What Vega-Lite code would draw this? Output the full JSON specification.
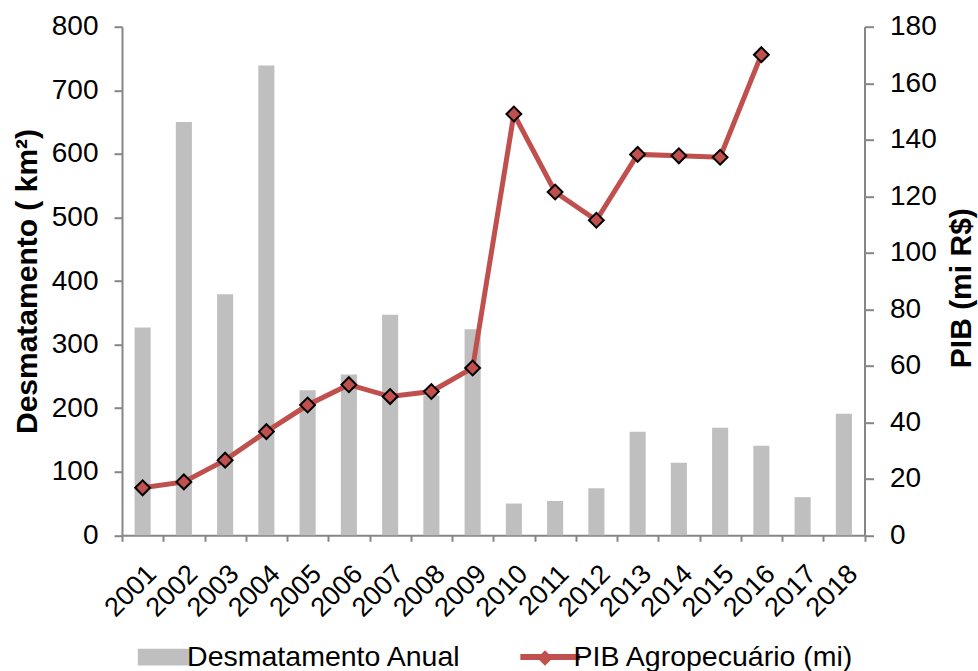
{
  "$schema": "https://vega.github.io/schema/vega-lite/v6.json",
  "width": 742.5,
  "height": 508.6,
  "autosize": {"type": "none"},
  "padding": {"left": 122, "top": 26.7, "right": 113.5, "bottom": 135.7},
  "background": "white",
  "config": {
    "view": {"stroke": null},
    "font": "Liberation Sans",
    "axis": {
      "domainColor": "#868686", "domainWidth": 2,
      "tickColor": "#868686", "tickWidth": 2,
      "labelColor": "black", "titleColor": "black", "grid": false,
      "labelFont": "Liberation Sans", "titleFont": "Liberation Sans"
    },
    "legend": {"labelFont": "Liberation Sans"}
  },
  "data": {
    "values": [
      {"year": "2001", "desm": 327, "pib": 16.8},
      {"year": "2002", "desm": 650, "pib": 18.9},
      {"year": "2003", "desm": 379, "pib": 26.6},
      {"year": "2004", "desm": 739, "pib": 36.7},
      {"year": "2005", "desm": 228, "pib": 46.1},
      {"year": "2006", "desm": 253, "pib": 53.3},
      {"year": "2007", "desm": 347, "pib": 49.1},
      {"year": "2008", "desm": 220, "pib": 50.9},
      {"year": "2009", "desm": 324, "pib": 59.2},
      {"year": "2010", "desm": 50, "pib": 149.1},
      {"year": "2011", "desm": 54, "pib": 121.5},
      {"year": "2012", "desm": 74, "pib": 111.5},
      {"year": "2013", "desm": 163, "pib": 134.8},
      {"year": "2014", "desm": 114, "pib": 134.3},
      {"year": "2015", "desm": 169, "pib": 133.8},
      {"year": "2016", "desm": 141, "pib": 170.1},
      {"year": "2017", "desm": 60, "pib": null},
      {"year": "2018", "desm": 191, "pib": null}
    ]
  },
  "encoding": {
    "x": {
      "field": "year", "type": "ordinal",
      "scale": {"paddingInner": 0, "paddingOuter": 0},
      "axis": {
        "title": null, "labelAngle": -45, "labelFontSize": 27,
        "tickBand": "extent", "tickSize": 6, "labelPadding": 19
      }
    }
  },
  "layer": [
    {
      "mark": {"type": "bar", "width": {"band": 0.39}},
      "encoding": {
        "y": {
          "field": "desm", "type": "quantitative",
          "scale": {"domain": [0, 800]},
          "axis": {
            "title": "Desmatamento ( km²)", "titleFontSize": 30, "titleFontWeight": "bold",
            "titlePadding": 9,
            "values": [0, 100, 200, 300, 400, 500, 600, 700, 800],
            "labelFontSize": 28, "tickSize": 8, "labelPadding": 16
          }
        },
        "color": {
          "datum": "Desmatamento Anual", "type": "nominal",
          "scale": {"domain": ["Desmatamento Anual", "PIB Agropecuário (mi)"], "range": ["#BFBFBF", "#C0504D"]},
          "legend": {
            "orient": "none", "legendX": 27.6, "legendY": 616,
            "direction": "horizontal", "title": null,
            "symbolSize": 2704, "labelFontSize": 28.5, "labelColor": "black",
            "labelOffset": 9, "columnPadding": 46.4, "padding": 0, "labelLimit": 500,
            "encode": {
              "symbols": {
                "update": {
                  "shape": {"signal": "datum.value === 'Desmatamento Anual' ? 'M-1,-0.32H1V0.32H-1Z' : 'M-1.15,0H1.15'"},
                  "fill": {"signal": "datum.value === 'Desmatamento Anual' ? '#BFBFBF' : 'transparent'"},
                  "stroke": {"signal": "datum.value === 'Desmatamento Anual' ? 'transparent' : '#C0504D'"},
                  "strokeWidth": {"signal": "datum.value === 'Desmatamento Anual' ? 0 : 6"},
                  "opacity": {"value": 1}
                }
              }
            }
          }
        }
      }
    },
    {
      "encoding": {
        "y": {
          "field": "pib", "type": "quantitative",
          "scale": {"domain": [0, 180]},
          "axis": {
            "orient": "right",
            "title": "PIB (mi R$)", "titleFontSize": 30, "titleFontWeight": "bold",
            "titleAngle": 270, "titleBaseline": "top", "titlePadding": 10, "titleY": 261,
            "values": [0, 20, 40, 60, 80, 100, 120, 140, 160, 180],
            "labelFontSize": 28, "tickSize": 9, "labelPadding": 16
          }
        }
      },
      "layer": [
        {
          "mark": {"type": "line", "strokeWidth": 5},
          "encoding": {
            "color": {"datum": "PIB Agropecuário (mi)", "type": "nominal"}
          }
        },
        {
          "mark": {"type": "point", "filled": true, "fill": "#C0504D", "stroke": "black", "strokeWidth": 2, "opacity": 1, "size": 220},
          "encoding": {
            "shape": {
              "datum": "PIB Agropecuário (mi)", "type": "nominal",
              "scale": {"domain": ["PIB Agropecuário (mi)"], "range": ["diamond"]},
              "legend": {
                "orient": "none", "legendX": 414, "legendY": 622.3,
                "title": null, "symbolSize": 240, "padding": 0,
                "labelExpr": "''", "labelFontSize": 1, "zindex": 2,
                "symbolFillColor": "#C0504D", "symbolStrokeColor": "black", "symbolStrokeWidth": 2,
                "encode": {
                  "symbols": {
                    "update": {
                      "fill": {"value": "#C0504D"},
                      "stroke": {"value": "black"},
                      "strokeWidth": {"value": 2},
                      "opacity": {"value": 1}
                    }
                  }
                }
              }
            }
          }
        }
      ]
    }
  ],
  "resolve": {"scale": {"y": "independent"}}
}
